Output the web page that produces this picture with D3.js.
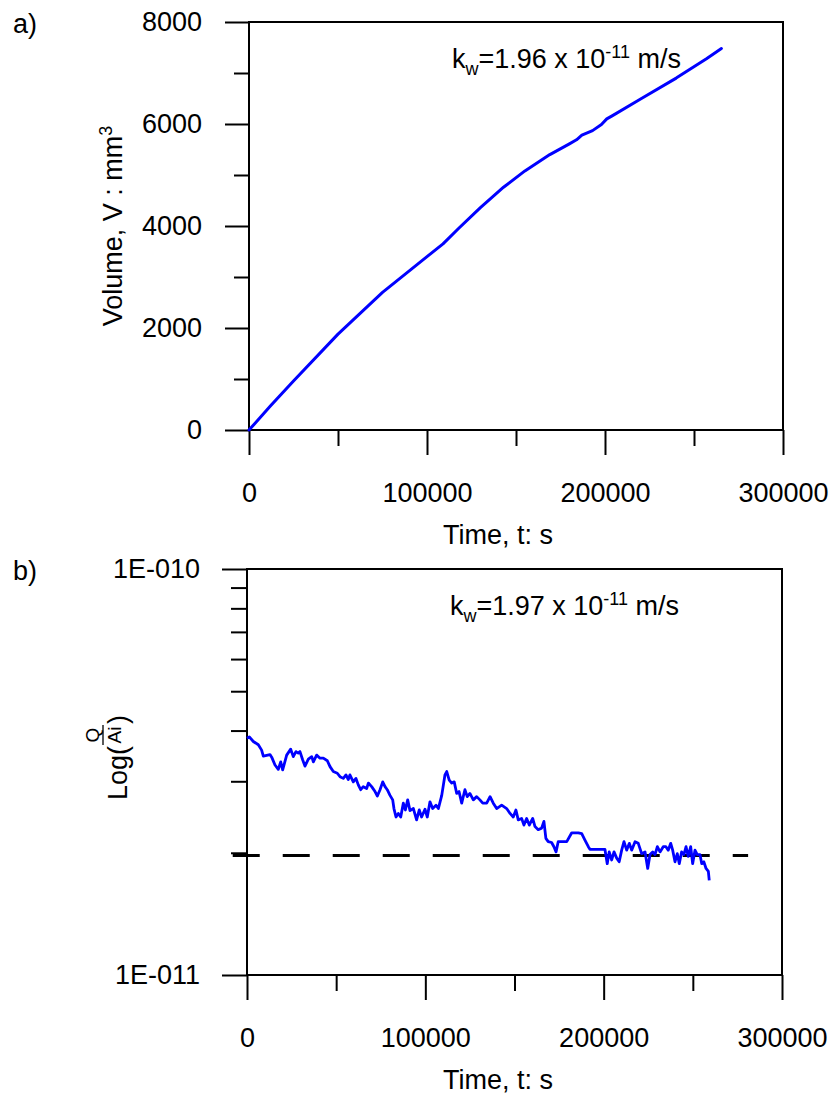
<!DOCTYPE html>
<html>
<head>
<meta charset="utf-8">
<script src="https://cdn.jsdelivr.net/npm/d3@7"></script>
<style>
  body { margin: 0; background: #fff; }
  text { font-family: "Liberation Sans", Arial, Helvetica, sans-serif; fill: #000; }
</style>
</head>
<body>
<div id="chart"></div>
<script>
// a) cumulative volume
var volTime  = [0, 12000, 25000, 50000, 75000, 100000, 109000, 118000, 130000, 143000, 155000, 169000, 180000, 184000, 187000, 193000, 198000, 201000, 204000, 220000, 240000, 257000, 265400];
var volValue = [0, 470, 960, 1880, 2700, 3400, 3650, 3960, 4360, 4760, 5080, 5400, 5610, 5690, 5780, 5870, 5990, 6100, 6160, 6490, 6900, 7280, 7480];

// b) Q/(A i), in m/s
var fluxTime = [0, 1300, 3550, 6350, 8200, 9150, 12900, 13850, 15700, 17550, 18900, 20000, 22250, 24500, 25950, 27450, 28750, 29700, 31200, 32500,
  34400, 36300, 37200, 39050, 40950, 42800, 45050, 46550, 48400, 50650, 52150, 54000, 55500, 56800, 57700, 59600, 61100, 62400, 63750, 65200,
  67100, 68050, 69900, 71800, 73100, 74600, 76100, 77400, 78650, 80200, 81700, 82400, 83550, 84850, 86200, 87650, 88800, 90100, 91400, 93300,
  95100, 96600, 97900, 99800, 101100, 102600, 104100, 106000, 107300, 109200, 111000, 112000, 113400, 114800, 116200, 117600, 118900, 120400, 122200, 123500,
  125000, 126900, 128800, 130600, 132200, 134400, 136300, 138100, 140000, 142800, 145600, 147500, 149300, 150800, 152100, 154000, 155300, 156800, 158300, 160200,
  161500, 163300, 165200, 166500, 167600, 168900, 170800, 172100, 173300, 174500, 179300, 182100, 185800, 187700, 189500, 191400, 192300, 200700, 202000, 203100,
  204500, 205800, 207300, 208700, 210100, 211400, 212900, 214400, 215700, 217600, 219400, 221300, 223200, 224700, 226000, 227500, 228800, 230100, 231600, 233400,
  234900, 236200, 237600, 238700, 240000, 241300, 242400, 243700, 245000, 246200, 247400, 248800, 249900, 251200, 252500, 254000, 255000, 256200, 257400, 258700, 259200];
var fluxValue = [3.83, 3.86, 3.76, 3.69, 3.58, 3.46, 3.49, 3.44, 3.29, 3.21, 3.35, 3.20, 3.48, 3.60, 3.45, 3.55, 3.52, 3.55, 3.39, 3.27,
  3.40, 3.45, 3.35, 3.48, 3.42, 3.42, 3.37, 3.26, 3.17, 3.14, 3.08, 3.05, 3.11, 3.03, 3.11, 2.99, 3.05, 2.94, 2.86, 2.91,
  2.88, 2.97, 2.91, 2.83, 2.76, 2.86, 2.99, 2.91, 2.86, 2.77, 2.70, 2.57, 2.45, 2.50, 2.45, 2.65, 2.55, 2.70, 2.54, 2.57,
  2.41, 2.55, 2.45, 2.56, 2.45, 2.67, 2.57, 2.62, 2.57, 2.77, 3.11, 3.17, 3.02, 2.97, 2.99, 2.80, 2.83, 2.65, 2.86, 2.75,
  2.80, 2.70, 2.75, 2.70, 2.65, 2.65, 2.75, 2.65, 2.57, 2.62, 2.57, 2.50, 2.45, 2.55, 2.41, 2.43, 2.34, 2.43, 2.34, 2.43,
  2.32, 2.28, 2.30, 2.39, 2.17, 2.13, 2.12, 2.07, 2.01, 2.13, 2.13, 2.24, 2.24, 2.23, 2.15, 2.07, 2.04, 2.04, 1.88, 2.01,
  1.92, 2.01, 1.94, 1.90, 2.03, 2.13, 2.03, 2.11, 2.03, 2.13, 2.11, 1.99, 2.01, 1.83, 1.98, 2.01, 1.98, 2.07, 2.01, 2.07,
  2.07, 2.03, 2.11, 2.03, 1.90, 1.99, 1.88, 2.01, 1.98, 2.07, 1.96, 2.07, 1.88, 2.03, 1.98, 1.98, 1.88, 1.90, 1.83, 1.80, 1.71].map(function(v){ return v * 1e-11; });

var kwLine = 1.97e-11;
var kwRange = [-8000, 281000];

var timeTicks = [0, 100000, 200000, 300000];
var timeMinor = [50000, 150000, 250000];
var volTicks = [0, 2000, 4000, 6000, 8000];
var volMinor = [1000, 3000, 5000, 7000];
var logTicks = [1e-11, 1e-10];
var logTickLabels = ["1E-011", "1E-010"];
var logMinor = [2e-11, 3e-11, 4e-11, 5e-11, 6e-11, 7e-11, 8e-11, 9e-11];

var svg = d3.select("#chart").append("svg")
    .attr("width", 832)
    .attr("height", 1100);

var fs = 27;

/* ---------- panel a ---------- */
var xa = d3.scaleLinear().domain([0, 300000]).range([249, 783]);
var ya = d3.scaleLinear().domain([0, 8000]).range([430, 22]);

function styleAxis(g) {
    g.select(".domain").remove();
    g.selectAll("line").attr("stroke", "#000").attr("stroke-width", 2);
    g.selectAll("text").attr("font-size", fs).attr("fill", "#000")
        .attr("font-family", "Liberation Sans, Arial, sans-serif");
}

svg.append("rect")
    .attr("x", xa(0)).attr("y", ya(8000))
    .attr("width", xa(300000) - xa(0)).attr("height", ya(0) - ya(8000))
    .attr("fill", "none").attr("stroke", "#000").attr("stroke-width", 2);

svg.append("g").attr("transform", "translate(" + xa(0) + ",0)")
    .call(d3.axisLeft(ya).tickValues(volTicks).tickSize(24).tickPadding(23).tickFormat(d3.format("d")))
    .call(styleAxis);
svg.append("g").attr("transform", "translate(" + xa(0) + ",0)")
    .call(d3.axisLeft(ya).tickValues(volMinor).tickSize(15).tickFormat(""))
    .call(styleAxis);
svg.append("g").attr("transform", "translate(0," + ya(0) + ")")
    .call(d3.axisBottom(xa).tickValues(timeTicks).tickSize(25).tickPadding(28).tickFormat(d3.format("d")))
    .call(styleAxis);
svg.append("g").attr("transform", "translate(0," + ya(0) + ")")
    .call(d3.axisBottom(xa).tickValues(timeMinor).tickSize(16).tickFormat(""))
    .call(styleAxis);

var volData = volTime.map(function(t, i){ return [t, volValue[i]]; });
svg.append("path")
    .datum(volData)
    .attr("fill", "none")
    .attr("stroke", "#0000ff")
    .attr("stroke-width", 3)
    .attr("stroke-linejoin", "round")
    .attr("stroke-linecap", "round")
    .attr("d", d3.line().x(function(d){ return xa(d[0]); }).y(function(d){ return ya(d[1]); }));

svg.append("text").attr("x", 13).attr("y", 33).attr("font-size", fs).text("a)");

var vl = svg.append("text")
    .attr("transform", "translate(122," + ((ya(0) + ya(8000)) / 2) + ") rotate(-90)")
    .attr("text-anchor", "middle")
    .attr("font-size", fs);
vl.append("tspan").text("Volume, V : mm");
vl.append("tspan").attr("font-size", 18).attr("dy", -10).text("3");

svg.append("text").attr("x", 498).attr("y", 544).attr("text-anchor", "middle")
    .attr("font-size", fs).text("Time, t: s");

function kwLabel(x, y, val) {
    var t = svg.append("text").attr("x", x).attr("y", y).attr("font-size", fs);
    t.append("tspan").text("k");
    t.append("tspan").attr("font-size", 18).attr("dy", 7).text("w");
    t.append("tspan").attr("dy", -7).text("=" + val + " x 10");
    t.append("tspan").attr("font-size", 18).attr("dy", -10).text("-11");
    t.append("tspan").attr("dy", 10).text(" m/s");
}
kwLabel(452, 68, "1.96");

/* ---------- panel b ---------- */
var xb = d3.scaleLinear().domain([0, 300000]).range([247, 782]);
var yb = d3.scaleLog().domain([1e-11, 1e-10]).range([975, 569]);

svg.append("rect")
    .attr("x", xb(0)).attr("y", yb(1e-10))
    .attr("width", xb(300000) - xb(0)).attr("height", yb(1e-11) - yb(1e-10))
    .attr("fill", "none").attr("stroke", "#000").attr("stroke-width", 2);

svg.append("g").attr("transform", "translate(" + xb(0) + ",0)")
    .call(d3.axisLeft(yb).tickValues(logTicks).tickSize(25).tickPadding(22)
        .tickFormat(function(d, i){ return logTickLabels[i]; }))
    .call(styleAxis);
svg.append("g").attr("transform", "translate(" + xb(0) + ",0)")
    .call(d3.axisLeft(yb).tickValues(logMinor).tickSize(16).tickFormat(""))
    .call(styleAxis);
svg.append("g").attr("transform", "translate(0," + yb(1e-11) + ")")
    .call(d3.axisBottom(xb).tickValues(timeTicks).tickSize(25).tickPadding(28).tickFormat(d3.format("d")))
    .call(styleAxis);
svg.append("g").attr("transform", "translate(0," + yb(1e-11) + ")")
    .call(d3.axisBottom(xb).tickValues(timeMinor).tickSize(16).tickFormat(""))
    .call(styleAxis);

// reference line at k_w
svg.append("line")
    .attr("x1", xb(kwRange[0])).attr("x2", xb(kwRange[1]))
    .attr("y1", yb(kwLine)).attr("y2", yb(kwLine))
    .attr("stroke", "#000").attr("stroke-width", 3)
    .attr("stroke-dasharray", "27,23");

var fluxData = fluxTime.map(function(t, i){ return [t, fluxValue[i]]; });
svg.append("path")
    .datum(fluxData)
    .attr("fill", "none")
    .attr("stroke", "#0000ff")
    .attr("stroke-width", 2.8)
    .attr("stroke-linejoin", "round")
    .attr("d", d3.line().x(function(d){ return xb(d[0]); }).y(function(d){ return yb(d[1]); }));

svg.append("text").attr("x", 13).attr("y", 580).attr("font-size", fs).text("b)");

// Log(Q / Ai) rotated label with a stacked fraction
var yl = svg.append("g").attr("transform", "translate(127,800) rotate(-90)");
yl.append("text").attr("x", 0).attr("y", 0).attr("font-size", fs).text("Log(");
yl.append("text").attr("x", 65).attr("y", -28).attr("font-size", 19).attr("text-anchor", "middle").text("Q");
yl.append("line").attr("x1", 55).attr("x2", 75).attr("y1", -24).attr("y2", -24)
    .attr("stroke", "#000").attr("stroke-width", 1.3);
yl.append("text").attr("x", 65).attr("y", -6).attr("font-size", 19).attr("text-anchor", "middle").text("Ai");
yl.append("text").attr("x", 76).attr("y", 0).attr("font-size", fs).text(")");

svg.append("text").attr("x", 498).attr("y", 1089).attr("text-anchor", "middle")
    .attr("font-size", fs).text("Time, t: s");

kwLabel(450, 615, "1.97");
</script>
</body>
</html>
